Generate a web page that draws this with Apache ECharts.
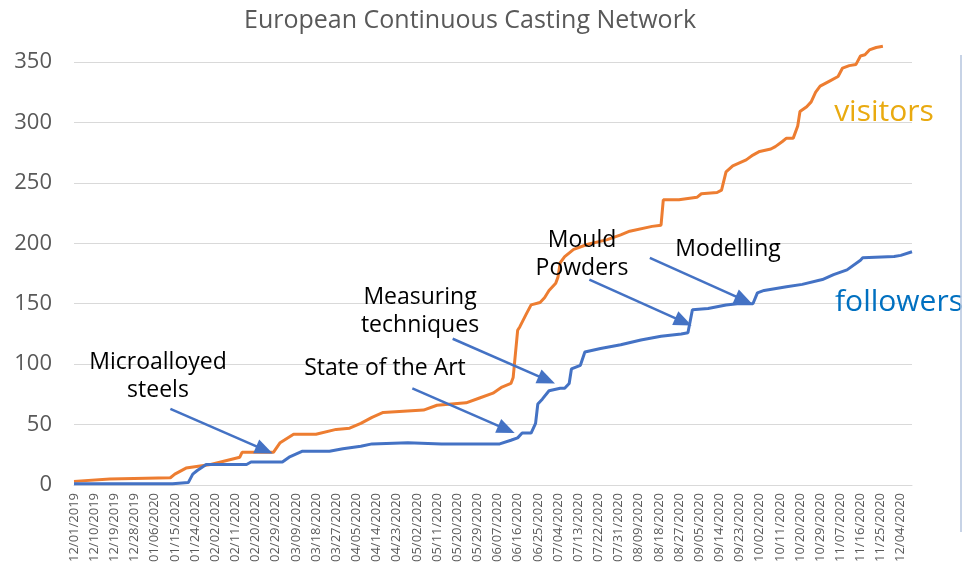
<!DOCTYPE html>
<html>
<head>
<meta charset="utf-8">
<script src="https://cdn.jsdelivr.net/npm/echarts@6/dist/echarts.min.js"></script>
<style>
  html, body { margin: 0; padding: 0; background: #fff; }
  #chart { width: 963px; height: 573px; }
</style>
</head>
<body>
<div id="chart"></div>
<script>
// x values are days since 12/01/2019
var startDate = Date.UTC(2019, 11, 1);
var lastDay = 374;
var tickStep = 9;

var visitorsDay = [0, 16, 43, 45, 50, 61, 74, 75, 89, 92, 98, 108, 117, 123, 128, 133, 138, 156, 162, 175,
    181, 187, 191, 195, 196, 198, 199, 202, 204, 208, 210, 212, 215, 216, 217, 219, 223, 229, 238, 244,
    248, 258, 262, 263, 270, 278, 280, 287, 289, 291, 294, 300, 303, 306, 311, 313, 316, 318, 321, 323,
    324, 327, 329, 331, 333, 337, 341, 343, 346, 349, 351, 353, 355, 358, 361];
var visitorsVal = [3, 5, 6, 9, 14, 17, 23, 27, 27, 35, 42, 42, 46, 47, 51, 56, 60, 62, 66, 68,
    72, 76, 81, 84, 89, 128, 131, 142, 149, 151, 155, 161, 167, 172, 184, 189, 195, 199, 203, 207,
    210, 214, 215, 236, 236, 238, 241, 242, 244, 259, 264, 269, 273, 276, 278, 280, 284, 287, 287, 297,
    309, 313, 317, 325, 330, 334, 338, 345, 347, 348, 355, 356, 360, 362, 363];

var followersDay = [0, 44, 51, 53, 55, 59, 77, 79, 93, 96, 102, 114, 120, 128, 133, 149, 164, 190, 195, 198,
    200, 204, 206, 207, 209, 212, 217, 219, 221, 222, 226, 228, 235, 244, 253, 262, 271, 274, 276, 283,
    291, 296, 303, 305, 308, 318, 325, 334, 339, 345, 351, 352, 366, 369, 374];
var followersVal = [1, 1, 2, 9, 12, 17, 17, 19, 19, 23, 28, 28, 30, 32, 34, 35, 34, 34, 37, 39,
    43, 43, 51, 67, 71, 78, 80, 80, 84, 96, 99, 110, 113, 116, 120, 123, 125, 126, 145, 146,
    149, 150, 150, 159, 161, 164, 166, 170, 174, 178, 186, 188, 189, 190, 193];

var yTicks = [0, 50, 100, 150, 200, 250, 300, 350];

// annotations: text and the arrow [from, to] in data units (day, value)
var notes = [
    { text: 'Microalloyed\nsteels', from: [43, 63], to: [85, 29] },
    { text: 'State of the Art', from: [151, 80], to: [193, 46] },
    { text: 'Measuring\ntechniques', from: [169, 121], to: [211, 87] },
    { text: 'Mould\nPowders', from: [230, 170], to: [272, 135] },
    { text: 'Modelling', from: [257, 188], to: [299, 153] }
];

function pair(days, vals) {
    var out = [];
    for (var i = 0; i < days.length; i++) out.push([days[i], vals[i]]);
    return out;
}

function dayLabel(v) {
    if (v % tickStep !== 0) return '';
    var d = new Date(startDate + v * 86400000);
    var mm = ('0' + (d.getUTCMonth() + 1)).slice(-2);
    var dd = ('0' + d.getUTCDate()).slice(-2);
    return mm + '/' + dd + '/' + d.getUTCFullYear();
}

var font = 'Open Sans';
var myChart = echarts.init(document.getElementById('chart'));

var option = {
    animation: false,
    grid: { left: 74, right: 51, top: 62, bottom: 88 },
    xAxis: {
        type: 'value',
        min: 0,
        max: lastDay,
        interval: tickStep,
        axisLine: { show: true, lineStyle: { color: '#D9D9D9', width: 1 } },
        axisTick: { show: false },
        splitLine: { show: false },
        axisLabel: {
            rotate: 90,
            margin: 8,
            fontFamily: font,
            fontSize: 13,
            color: '#595959',
            showMaxLabel: false,
            formatter: dayLabel
        }
    },
    yAxis: {
        type: 'value',
        min: yTicks[0],
        max: yTicks[yTicks.length - 1],
        interval: 50,
        axisLine: { show: false },
        axisTick: { show: false },
        splitLine: { lineStyle: { color: '#D9D9D9', width: 1 } },
        axisLabel: { margin: 22, fontFamily: font, fontSize: 22, color: '#595959' }
    },
    series: [{
        name: 'visitors',
        type: 'line',
        data: pair(visitorsDay, visitorsVal),
        clip: false,
        showSymbol: false,
        lineStyle: { color: '#ED7D31', width: 3 },
        itemStyle: { color: '#ED7D31' },
        z: 2
    }, {
        name: 'followers',
        type: 'line',
        data: pair(followersDay, followersVal),
        clip: false,
        showSymbol: false,
        lineStyle: { color: '#4472C4', width: 3 },
        itemStyle: { color: '#4472C4' },
        z: 3,
        markLine: {
            silent: true,
            symbol: ['none', 'triangle'],
            symbolSize: [15, 18],
            label: { show: false },
            lineStyle: { color: '#4472C4', width: 2.5, type: 'solid' },
            data: notes.map(function (n) {
                return [{ coord: n.from }, { coord: n.to }];
            })
        }
    }]
};
myChart.setOption(option);

// annotation texts placed above the start of each arrow
var textPos = [[158, 376], [385, 368], [420, 311], [582, 254], [728, 249]];
var graphics = [{
    type: 'text', x: 470, y: 21,
    style: { text: 'European Continuous Casting Network', fontFamily: font, fontSize: 25,
        fill: '#595959', align: 'center', verticalAlign: 'middle' }
}, {
    type: 'text', x: 884, y: 112,
    style: { text: 'visitors', fontFamily: font, fontSize: 30, fill: '#E9AA10',
        align: 'center', verticalAlign: 'middle' }
}, {
    type: 'text', x: 899, y: 302,
    style: { text: 'followers', fontFamily: font, fontSize: 30, fill: '#0070C0',
        align: 'center', verticalAlign: 'middle' }
}, {
    type: 'line', shape: { x1: 961, y1: 55, x2: 961, y2: 532 },
    style: { stroke: '#B4C4DE', lineWidth: 1.5 }
}];
notes.forEach(function (n, i) {
    graphics.push({
        type: 'text', x: textPos[i][0], y: textPos[i][1], z: 10,
        style: { text: n.text, fontFamily: font, fontSize: 23, lineHeight: 28, fill: '#000',
            align: 'center', verticalAlign: 'middle' }
    });
});
myChart.setOption({ graphic: graphics });
</script>
</body>
</html>
